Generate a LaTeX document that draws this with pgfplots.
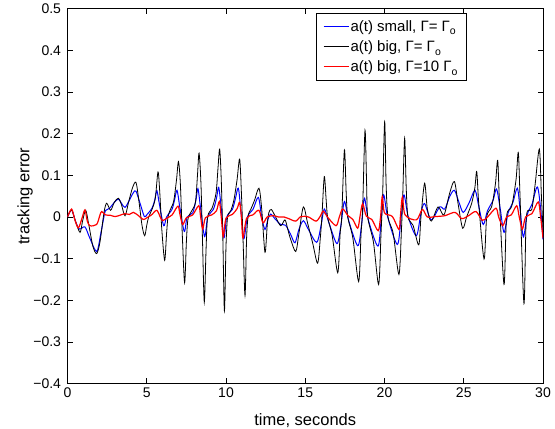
\documentclass[border=0pt]{standalone}
\usepackage{pgfplots}
\pgfplotsset{compat=1.18}
\usepackage{fontspec}
\setmainfont{Liberation Sans}
\newcommand{\sub}[1]{\raisebox{-0.45ex}{\fontsize{10.5}{11}\selectfont #1}}

% series
\pgfplotstableread{
t v
0 0
0.26 0.017
0.5 -0.01
0.75 -0.029
1.1 -0.024
1.4 -0.05
1.84 -0.083
2.1 -0.04
2.35 0.01
2.47 0.017
2.68 0.022
2.95 0.035
3.21 0.043
3.42 0.032
3.63 0.023
3.9 0.04
4.15 0.058
4.32 0.062
4.6 0.03
4.85 0.001
5.02 0.006
5.33 0.021
5.5 0.04
5.64 0.063
5.8 0.03
6.07 -0.021
6.25 0.0
6.59 0.018
6.75 0.04
6.91 0.064
7.1 0.02
7.37 -0.035
7.55 0.0
7.9 0.01
8.1 0.04
8.23 0.068
8.4 0.02
8.65 -0.047
8.85 0.0
9.2 0.018
9.4 0.045
9.54 0.071
9.7 0.02
9.87 -0.05
10.05 0.0
10.4 0.018
10.6 0.045
10.78 0.069
10.95 0.01
11.13 -0.052
11.35 0.0
11.7 0.018
12.04 0.047
12.25 0.0
12.46 -0.03
12.65 -0.005
12.82 0.007
13.1 -0.005
13.45 -0.018
13.76 -0.02
14.08 -0.042
14.35 -0.062
14.6 -0.03
14.88 -0.009
15.2 -0.03
15.72 -0.061
16.0 -0.02
16.2 0.019
16.5 -0.015
17.0 -0.064
17.25 -0.02
17.47 0.037
17.75 -0.01
18.31 -0.069
18.55 -0.02
18.73 0.045
19.0 -0.01
19.59 -0.07
19.8 0.0
19.95 0.053
20.2 0.0
20.81 -0.066
21.05 0.0
21.23 0.053
21.5 0.0
22.01 -0.045
22.3 0.01
22.53 0.032
22.95 -0.007
23.48 0.024
23.8 0.019
24.11 0.049
24.41 0.064
24.7 0.035
24.97 0.011
25.35 0.035
25.71 0.064
25.95 0.025
26.23 -0.018
26.5 0.015
26.85 0.04
27.07 0.067
27.3 0.02
27.54 -0.037
27.8 0.01
28.1 0.035
28.38 0.069
28.55 0.02
28.76 -0.048
29.0 0.005
29.3 0.03
29.64 0.072
29.85 0.02
30 -0.054
}\smalltab

\pgfplotstableread{
t v
0 0
0.26 0.017
0.5 -0.01
0.79 -0.037
0.95 -0.01
1.15 0.016
1.35 -0.02
1.6 -0.07
1.84 -0.088
2.05 -0.06
2.3 0.01
2.47 0.033
2.72 0.016
2.95 0.035
3.21 0.045
3.4 0.03
3.63 0.003
3.85 0.035
4.1 0.07
4.32 0.083
4.5 0.04
4.7 -0.02
4.87 -0.045
5.0 -0.02
5.12 0.0
5.33 0.018
5.54 0.045
5.71 0.108
5.82 0.06
5.95 -0.03
6.13 -0.104
6.25 -0.04
6.34 0.0
6.49 0.018
6.7 0.038
6.88 0.09
7.0 0.133
7.12 0.08
7.25 -0.05
7.39 -0.158
7.5 -0.06
7.6 -0.005
7.81 0.013
8.07 0.035
8.2 0.1
8.3 0.153
8.42 0.08
8.52 -0.06
8.63 -0.205
8.74 -0.08
8.84 0.0
9.12 0.021
9.37 0.057
9.5 0.12
9.6 0.163
9.7 0.09
9.8 -0.05
9.9 -0.226
10.0 -0.07
10.1 0.0
10.3 0.015
10.5 0.041
10.7 0.09
10.86 0.139
10.97 0.06
11.08 -0.06
11.2 -0.189
11.3 -0.05
11.4 0.003
11.56 0.018
11.8 0.04
12.08 0.069
12.25 0.02
12.46 -0.085
12.6 -0.02
12.7 0.01
12.86 0.018
13.13 0.0
13.45 -0.021
13.72 -0.007
13.9 -0.03
14.08 -0.054
14.4 -0.083
14.6 -0.04
14.88 0.024
15.15 -0.015
15.47 -0.063
15.78 -0.111
15.95 -0.05
16.05 0.0
16.2 0.097
16.32 0.04
16.41 0.0
16.7 -0.045
17.05 -0.134
17.2 -0.04
17.3 0.0
17.47 0.161
17.58 0.06
17.68 0.0
18.0 -0.05
18.37 -0.155
18.52 -0.04
18.62 0.02
18.77 0.208
18.87 0.08
18.94 0.0
19.3 -0.06
19.63 -0.162
19.78 -0.04
19.88 0.05
20.01 0.229
20.1 0.08
20.22 0.0
20.55 -0.04
20.91 -0.138
21.07 -0.03
21.15 0.05
21.27 0.189
21.37 0.07
21.48 0.0
21.8 -0.02
22.16 -0.067
22.3 0.0
22.53 0.081
22.7 0.02
22.95 -0.01
23.38 0.024
23.75 0.005
24.11 0.057
24.41 0.085
24.65 0.03
24.93 -0.027
25.18 0.0
25.5 0.033
25.7 0.07
25.82 0.109
25.95 0.03
26.28 -0.101
26.45 0.0
26.76 0.025
27.0 0.08
27.14 0.136
27.25 0.04
27.54 -0.162
27.7 0.0
28.02 0.025
28.3 0.09
28.44 0.155
28.55 0.05
28.8 -0.208
28.95 0.0
29.29 0.018
29.5 0.077
29.77 0.163
29.9 0.05
30 -0.03
}\bigtab

\pgfplotstableread{
t v
0 0
0.26 0.019
0.45 -0.005
0.68 -0.026
0.9 -0.005
1.1 0.017
1.25 -0.01
1.42 -0.021
1.84 -0.018
2.05 0.005
2.16 0.013
2.4 0.005
2.7 0.004
3.0 0.001
3.3 0.004
3.63 0.008
3.9 0.006
4.15 0.011
4.45 0.004
4.78 -0.006
5.0 -0.002
5.3 0.005
5.63 0.016
5.85 0.0
6.0 -0.009
6.3 -0.002
6.6 0.005
6.97 0.026
7.1 0.005
7.27 -0.018
7.5 -0.002
7.9 0.005
8.28 0.027
8.4 0.0
8.53 -0.029
8.7 -0.002
9.1 0.005
9.4 0.015
9.58 0.037
9.7 0.0
9.83 -0.047
10.0 -0.003
10.4 0.006
10.7 0.02
10.86 0.035
10.97 0.0
11.07 -0.05
11.3 -0.003
11.7 0.005
12.08 0.016
12.33 -0.014
12.6 0.0
13.0 0.003
13.3 0.0
13.66 0.0
14.08 -0.006
14.4 -0.01
14.73 0.001
15.2 0.0
15.68 -0.01
15.95 0.002
16.14 0.014
16.4 0.0
16.94 -0.021
17.15 0.0
17.36 0.019
17.7 0.003
18.0 -0.006
18.31 -0.027
18.45 0.0
18.62 0.032
18.85 0.002
19.2 -0.006
19.6 -0.033
19.75 0.0
19.86 0.049
20.0 0.01
20.5 0.001
20.91 -0.03
21.0 0.0
21.13 0.048
21.3 0.005
22.01 -0.007
22.39 0.018
22.7 0.0
23.2 0.001
23.8 0.003
24.45 0.011
24.87 -0.004
25.3 0.003
25.77 0.013
26.17 -0.008
26.5 0.0
27.03 0.021
27.2 0.0
27.46 -0.021
27.7 0.0
28.0 0.005
28.34 0.027
28.5 0.0
28.7 -0.029
28.9 0.0
29.3 0.008
29.7 0.036
29.85 0.0
30 -0.051
}\bigtenstab

\begin{document}
\begin{tikzpicture}
\begin{axis}[
    scale only axis,
    width=475.5pt, height=374.7pt,
    xmin=0, xmax=30, ymin=-0.4, ymax=0.5,
    xtick={0,5,...,30},
    ytick={-0.4,-0.3,...,0.5},
    yticklabels={−0.4,−0.3,−0.2,−0.1,0,0.1,0.2,0.3,0.4,0.5},
    xticklabels={0,5,10,15,20,25,30},
    tick pos=both, tick align=inside,
    major tick length=5pt,
    axis line style={line width=0.8pt},
    every tick/.style={line width=0.6pt, black},
    tick label style={font=\fontsize{14}{16}\selectfont},
    yticklabel style={xshift=-3pt},
    xticklabel style={yshift=-1pt},
    label style={font=\fontsize{16.5}{18}\selectfont},
    xlabel={time, seconds},
    ylabel={tracking error},
    xlabel style={at={(axis description cs:0.5,-0.1)}, anchor=center},
    ylabel style={at={(axis description cs:-0.0894,0.5)}, anchor=center},
    legend cell align=left,
    legend style={at={(0.840,0.989)}, anchor=north east,
        font=\fontsize{15}{17}\selectfont, line width=0.8pt,
        row sep=4pt, inner xsep=7pt, inner ysep=5pt},
    legend image code/.code={\node[#1, draw=none, fill=none, inner sep=0pt, outer sep=0pt, anchor=west]
        at (0pt,0pt) {\rule[-0.45pt]{25pt}{0.9pt}};},
]
\addplot[blue, line width=1pt, smooth, tension=0.5] table[x=t,y=v] {\smalltab};
\addlegendentry{a(t) small, Γ= Γ\sub{o}}
\addplot[black, line width=0.8pt, smooth, tension=0.5] table[x=t,y=v] {\bigtab};
\addlegendentry{a(t) big, Γ= Γ\sub{o}}
\addplot[red, line width=1.2pt, smooth, tension=0.5] table[x=t,y=v] {\bigtenstab};
\addlegendentry{a(t) big, Γ=10 Γ\sub{o}}
\end{axis}
\pgfresetboundingbox
\useasboundingbox ([shift={(-67.5pt,-45.5pt)}]current axis.south west) rectangle ([shift={(12pt,8.8pt)}]current axis.north east);
\end{tikzpicture}
\end{document}
